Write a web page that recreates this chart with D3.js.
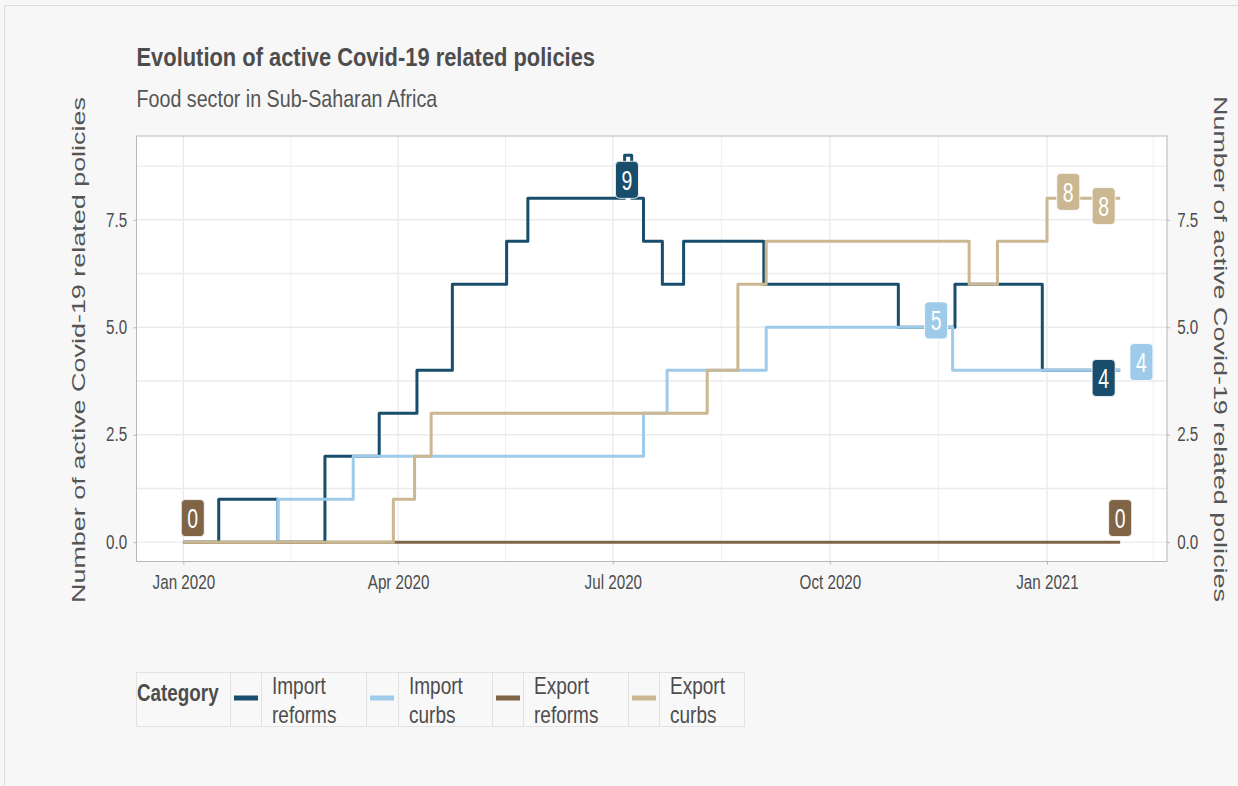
<!DOCTYPE html>
<html>
<head>
<meta charset="utf-8">
<script src="https://cdn.jsdelivr.net/npm/d3@7/dist/d3.min.js"></script>
<style>
  body { margin: 0; background: #f7f7f7; }
  svg text { font-family: "Liberation Sans", Arial, sans-serif; fill: #4d4d4d; }
</style>
</head>
<body>
<div class="chart"></div>
<script>
// ---- data (change points of each step series) ----
var seriesNames = ["Import reforms", "Import curbs", "Export reforms", "Export curbs"];
var seriesColors = ["#184e6b", "#9ecbe9", "#806446", "#cbb893"];

var importReformsDates = ["2020-01-01", "2020-01-16", "2020-02-10", "2020-03-01", "2020-03-24", "2020-04-09",
    "2020-04-24", "2020-05-17", "2020-05-26", "2020-07-06", "2020-07-09", "2020-07-14", "2020-07-22",
    "2020-07-31", "2020-09-03", "2020-10-30", "2020-11-23", "2020-12-30", "2021-02-01"];
var importReformsValues = [0, 1, 0, 2, 3, 4, 6, 7, 8, 9, 8, 7, 6, 7, 6, 5, 6, 4, 4];

var importCurbsDates = ["2020-01-01", "2020-02-10", "2020-03-13", "2020-07-14", "2020-07-24", "2020-09-04",
    "2020-11-22", "2021-02-01"];
var importCurbsValues = [0, 1, 2, 3, 4, 5, 4, 4];

var exportReformsDates = ["2020-01-01", "2021-02-01"];
var exportReformsValues = [0, 0];

var exportCurbsDates = ["2020-01-01", "2020-03-30", "2020-04-08", "2020-04-15", "2020-08-10", "2020-08-23",
    "2020-09-04", "2020-11-29", "2020-12-11", "2021-01-01", "2021-02-01"];
var exportCurbsValues = [0, 1, 2, 3, 4, 6, 7, 6, 7, 8, 8];

var xTickDates = ["2020-01-01", "2020-04-01", "2020-07-01", "2020-10-01", "2021-01-01"];
var xTickLabels = ["Jan 2020", "Apr 2020", "Jul 2020", "Oct 2020", "Jan 2021"];
var yTicks = [0, 2.5, 5, 7.5];

// value labels (max and last value of each series, repelled)
var labelSeries = [2, 0, 3, 3, 1, 0, 1, 2];
var labelTexts = ["0", "9", "8", "8", "5", "4", "4", "0"];
var labelDates = ["2020-01-05", "2020-07-07", "2021-01-10", "2021-01-25", "2020-11-15", "2021-01-25", "2021-02-10", "2021-02-01"];
var labelValues = [0.56, 8.43, 8.15, 7.82, 5.16, 3.82, 4.19, 0.56];

var width = 1238, height = 786;
var parse = d3.timeParse("%Y-%m-%d");

var series = [
    { dates: importReformsDates, values: importReformsValues },
    { dates: importCurbsDates, values: importCurbsValues },
    { dates: exportReformsDates, values: exportReformsValues },
    { dates: exportCurbsDates, values: exportCurbsValues }
].map(function (s, i) {
    return {
        name: seriesNames[i],
        color: seriesColors[i],
        points: s.dates.map(function (d, j) { return { date: parse(d), value: s.values[j] }; })
    };
});

var svg = d3.select(".chart").append("svg")
    .attr("width", width)
    .attr("height", height);

// narrow text: Liberation Sans squeezed horizontally (no narrow face installed)
function narrowText(parent, x0, y0, size, sx) {
    return parent.append("text")
        .attr("transform", "translate(" + x0 + "," + y0 + ") scale(" + (sx || 0.82) + ",1)")
        .style("font-size", size + "px");
}

// page background + outer frame
svg.append("rect").attr("width", width).attr("height", height).attr("fill", "#f7f7f7");
svg.append("rect").attr("x", 4.5).attr("y", 5.5).attr("width", width + 10).attr("height", height + 10)
    .attr("fill", "none").attr("stroke", "#dcdcdc");

var panel = { left: 136.5, right: 1167, top: 136, bottom: 561.5 };

// ggplot-like 5% expansion
var allDates = [].concat.apply([], series.map(function (s) { return s.points.map(function (p) { return p.date; }); }));
var dExt = d3.extent(allDates);
var pad = (dExt[1] - dExt[0]) * 0.05;
var x = d3.scaleTime()
    .domain([new Date(+dExt[0] - pad), new Date(+dExt[1] + pad)])
    .range([panel.left, panel.right]);

var yMax = d3.max(series, function (s) { return d3.max(s.points, function (p) { return p.value; }); });
var y = d3.scaleLinear()
    .domain([-yMax * 0.05, yMax * 1.05])
    .range([panel.bottom, panel.top]);

// panel
svg.append("rect")
    .attr("x", panel.left).attr("y", panel.top)
    .attr("width", panel.right - panel.left).attr("height", panel.bottom - panel.top)
    .attr("fill", "#ffffff");

var grid = svg.append("g");
var majorDates = xTickDates.map(parse);
var ext = majorDates.concat([parse("2021-04-01")]);
var minorDates = d3.range(ext.length - 1).map(function (i) { return new Date((+ext[i] + +ext[i + 1]) / 2); })
    .filter(function (d) { return x(d) > panel.left && x(d) < panel.right; });
var minorY = d3.range(yTicks.length).map(function (i) { return yTicks[i] + 1.25; });

grid.selectAll(".vminor").data(minorDates).enter().append("line")
    .attr("x1", function (d) { return x(d); }).attr("x2", function (d) { return x(d); })
    .attr("y1", panel.top).attr("y2", panel.bottom)
    .attr("stroke", "#f0f0f0").attr("stroke-width", 1);
grid.selectAll(".hminor").data(minorY).enter().append("line")
    .attr("y1", function (d) { return y(d); }).attr("y2", function (d) { return y(d); })
    .attr("x1", panel.left).attr("x2", panel.right)
    .attr("stroke", "#ebebeb").attr("stroke-width", 1.4);
grid.selectAll(".vmajor").data(majorDates).enter().append("line")
    .attr("x1", function (d) { return x(d); }).attr("x2", function (d) { return x(d); })
    .attr("y1", panel.top).attr("y2", panel.bottom)
    .attr("stroke", "#ebebeb").attr("stroke-width", 1.4);
grid.selectAll(".hmajor").data(yTicks).enter().append("line")
    .attr("y1", function (d) { return y(d); }).attr("y2", function (d) { return y(d); })
    .attr("x1", panel.left).attr("x2", panel.right)
    .attr("stroke", "#ebebeb").attr("stroke-width", 1.4);

svg.append("rect")
    .attr("x", panel.left).attr("y", panel.top)
    .attr("width", panel.right - panel.left).attr("height", panel.bottom - panel.top)
    .attr("fill", "none").attr("stroke", "#b8b8b8").attr("stroke-width", 1);

// axes
var fmt = d3.format(".1f");
var axisStyle = function (g) {
    g.select(".domain").remove();
    g.selectAll(".tick line").attr("stroke", "#b8b8b8");
    g.selectAll(".tick text").style("font-size", "19.5px").attr("fill", "#4d4d4d")
        .attr("transform", "scale(0.78,1)");
};
svg.append("g").attr("transform", "translate(" + panel.left + ",0)")
    .call(d3.axisLeft(y).tickValues(yTicks).tickFormat(fmt).tickSize(3).tickPadding(9))
    .call(axisStyle);
svg.append("g").attr("transform", "translate(" + panel.right + ",0)")
    .call(d3.axisRight(y).tickValues(yTicks).tickFormat(fmt).tickSize(3).tickPadding(10))
    .call(axisStyle);
svg.append("g").attr("transform", "translate(0," + panel.bottom + ")")
    .call(d3.axisBottom(x).tickValues(majorDates).tickFormat(function (d, i) { return xTickLabels[i]; })
        .tickSize(3).tickPadding(11))
    .call(axisStyle);

// lines
var line = d3.line()
    .x(function (d) { return x(d.date); })
    .y(function (d) { return y(d.value); })
    .curve(d3.curveStepAfter);

svg.append("g").selectAll("path")
    .data(series)
    .enter().append("path")
    .attr("d", function (d) { return line(d.points); })
    .attr("fill", "none")
    .attr("stroke", function (d) { return d.color; })
    .attr("stroke-width", 3)
    .attr("stroke-linejoin", "round");

// labels
var labels = svg.append("g").selectAll("g")
    .data(labelTexts)
    .enter().append("g")
    .attr("transform", function (d, i) {
        return "translate(" + x(parse(labelDates[i])) + "," + y(labelValues[i]) + ")";
    });
labels.append("rect")
    .attr("x", -11.5).attr("y", -18.5).attr("width", 23).attr("height", 37).attr("rx", 4)
    .attr("fill", function (d, i) { return seriesColors[labelSeries[i]]; })
    .attr("stroke", "#ffffff").attr("stroke-width", 0.8);
labels.append("text")
    .attr("text-anchor", "middle")
    .attr("transform", "translate(0,10) scale(0.72,1)")
    .style("font-size", "27px")
    .style("fill", "#ffffff")
    .text(function (d) { return d; });

// titles
narrowText(svg, panel.left, 66, 26.7).style("font-weight", "bold")
    .text("Evolution of active Covid-19 related policies");
narrowText(svg, panel.left, 107, 24).style("fill", "#555555")
    .text("Food sector in Sub-Saharan Africa");

var axisTitle = "Number of active Covid-19 related policies";
svg.append("text")
    .attr("transform", "translate(85,350) rotate(-90)")
    .attr("text-anchor", "middle")
    .attr("textLength", 506).attr("lengthAdjust", "spacingAndGlyphs")
    .style("font-size", "18.5px").style("fill", "#555555")
    .text(axisTitle);
svg.append("text")
    .attr("transform", "translate(1214,349) rotate(90)")
    .attr("text-anchor", "middle")
    .attr("textLength", 506).attr("lengthAdjust", "spacingAndGlyphs")
    .style("font-size", "18.5px").style("fill", "#555555")
    .text(axisTitle);

// legend
var legend = svg.append("g");
var lgTop = 672, lgBottom = 726;
var cellEdges = [136, 230, 261, 366, 398, 492, 523, 628, 659, 744];
legend.append("rect").attr("x", cellEdges[0] + 0.5).attr("y", lgTop + 0.5)
    .attr("width", cellEdges[cellEdges.length - 1] - cellEdges[0]).attr("height", lgBottom - lgTop)
    .attr("fill", "#f8f8f8").attr("stroke", "#e2e2e2");
legend.selectAll(".sep").data(cellEdges.slice(1, -1)).enter().append("line")
    .attr("x1", function (d) { return d + 0.5; }).attr("x2", function (d) { return d + 0.5; })
    .attr("y1", lgTop).attr("y2", lgBottom)
    .attr("stroke", "#e2e2e2");
narrowText(legend, cellEdges[0] + 1, 701, 23).style("font-weight", "bold").text("Category");
seriesNames.forEach(function (name, i) {
    var kx = cellEdges[1 + i * 2], lx = cellEdges[2 + i * 2];
    legend.append("line")
        .attr("x1", kx + 4).attr("x2", kx + 28).attr("y1", 698).attr("y2", 698)
        .attr("stroke", seriesColors[i]).attr("stroke-width", 5);
    var words = name.split(" ");
    var t = narrowText(legend, lx + 11, 694, 23.2);
    t.append("tspan").attr("x", 0).text(words[0]);
    t.append("tspan").attr("x", 0).attr("dy", 29).text(words[1]);
});
</script>
</body>
</html>
